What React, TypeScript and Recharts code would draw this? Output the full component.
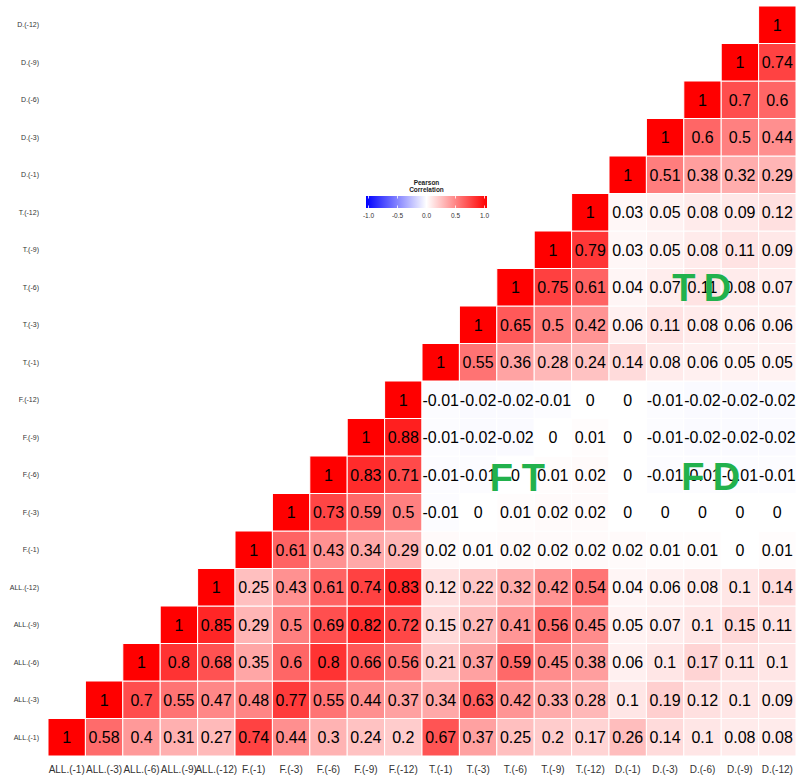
import React from 'react';
import { ScatterChart, Scatter, XAxis, YAxis, ReferenceDot } from 'recharts';

const variables = [
  'ALL.(-1)', 'ALL.(-3)', 'ALL.(-6)', 'ALL.(-9)', 'ALL.(-12)',
  'F.(-1)', 'F.(-3)', 'F.(-6)', 'F.(-9)', 'F.(-12)',
  'T.(-1)', 'T.(-3)', 'T.(-6)', 'T.(-9)', 'T.(-12)',
  'D.(-1)', 'D.(-3)', 'D.(-6)', 'D.(-9)', 'D.(-12)',
];

// each row starts at the diagonal and runs to the right
const rowAll1 = [1, 0.58, 0.4, 0.31, 0.27, 0.74, 0.44, 0.3, 0.24, 0.2, 0.67, 0.37, 0.25, 0.2, 0.17, 0.26, 0.14, 0.1, 0.08, 0.08];
const rowAll3 = [1, 0.7, 0.55, 0.47, 0.48, 0.77, 0.55, 0.44, 0.37, 0.34, 0.63, 0.42, 0.33, 0.28, 0.1, 0.19, 0.12, 0.1, 0.09];
const rowAll6 = [1, 0.8, 0.68, 0.35, 0.6, 0.8, 0.66, 0.56, 0.21, 0.37, 0.59, 0.45, 0.38, 0.06, 0.1, 0.17, 0.11, 0.1];
const rowAll9 = [1, 0.85, 0.29, 0.5, 0.69, 0.82, 0.72, 0.15, 0.27, 0.41, 0.56, 0.45, 0.05, 0.07, 0.1, 0.15, 0.11];
const rowAll12 = [1, 0.25, 0.43, 0.61, 0.74, 0.83, 0.12, 0.22, 0.32, 0.42, 0.54, 0.04, 0.06, 0.08, 0.1, 0.14];
const rowF1 = [1, 0.61, 0.43, 0.34, 0.29, 0.02, 0.01, 0.02, 0.02, 0.02, 0.02, 0.01, 0.01, 0, 0.01];
const rowF3 = [1, 0.73, 0.59, 0.5, -0.01, 0, 0.01, 0.02, 0.02, 0, 0, 0, 0, 0];
const rowF6 = [1, 0.83, 0.71, -0.01, -0.01, 0, 0.01, 0.02, 0, -0.01, -0.01, -0.01, -0.01];
const rowF9 = [1, 0.88, -0.01, -0.02, -0.02, 0, 0.01, 0, -0.01, -0.02, -0.02, -0.02];
const rowF12 = [1, -0.01, -0.02, -0.02, -0.01, 0, 0, -0.01, -0.02, -0.02, -0.02];
const rowT1 = [1, 0.55, 0.36, 0.28, 0.24, 0.14, 0.08, 0.06, 0.05, 0.05];
const rowT3 = [1, 0.65, 0.5, 0.42, 0.06, 0.11, 0.08, 0.06, 0.06];
const rowT6 = [1, 0.75, 0.61, 0.04, 0.07, 0.11, 0.08, 0.07];
const rowT9 = [1, 0.79, 0.03, 0.05, 0.08, 0.11, 0.09];
const rowT12 = [1, 0.03, 0.05, 0.08, 0.09, 0.12];
const rowD1 = [1, 0.51, 0.38, 0.32, 0.29];
const rowD3 = [1, 0.6, 0.5, 0.44];
const rowD6 = [1, 0.7, 0.6];
const rowD9 = [1, 0.74];
const rowD12 = [1];

const rows = [
  rowAll1, rowAll3, rowAll6, rowAll9, rowAll12,
  rowF1, rowF3, rowF6, rowF9, rowF12,
  rowT1, rowT3, rowT6, rowT9, rowT12,
  rowD1, rowD3, rowD6, rowD9, rowD12,
];

const legendTicks = [-1, -0.5, 0, 0.5, 1];

// block letters laid over the cross-group regions
const blockLetters = [
  { text: 'T', x: 16.5, y: 12 },
  { text: 'D', x: 17.4, y: 12 },
  { text: 'F', x: 11.62, y: 6.93 },
  { text: 'T', x: 12.48, y: 6.93 },
  { text: 'F', x: 16.74, y: 6.95 },
  { text: 'D', x: 17.64, y: 6.95 },
];

const cells = rows.flatMap((vals, r) => vals.map((v, k) => ({ x: r + k, y: r, v })));

const W = 796;
const H = 782;
const M = { top: 6, right: 0, bottom: 0, left: 0 };
const Y_W = 48;
const X_H = 26;
const N = variables.length;
const cellW = (W - M.left - M.right - Y_W) / N;
const cellH = (H - M.top - M.bottom - X_H) / N;
const FONT = '"Liberation Sans", Arial, sans-serif';

const fillFor = (v: number) => {
  if (v >= 0) {
    const g = Math.round(255 * (1 - v));
    return `rgb(255,${g},${g})`;
  }
  const g = Math.round(255 * (1 + v));
  return `rgb(${g},${g},255)`;
};

const Tile = (props: any) => {
  const { cx, cy, payload } = props;
  return (
    <rect
      x={cx - cellW / 2}
      y={cy - cellH / 2}
      width={cellW}
      height={cellH}
      fill={fillFor(payload.v)}
      stroke="#ffffff"
      strokeWidth={1}
    />
  );
};

const TileLabel = (props: any) => {
  const { cx, cy, payload } = props;
  return (
    <text x={cx} y={cy} dy="0.36em" textAnchor="middle" fontSize={16} fill="#000" fontFamily={FONT}>
      {String(payload.v)}
    </text>
  );
};

const Letter = (text: string) => (props: any) => (
  <text
    x={props.cx}
    y={props.cy}
    dy="0.36em"
    textAnchor="middle"
    fontSize={38}
    fontWeight="bold"
    fill="#22b14c"
    fontFamily={FONT}
  >
    {text}
  </text>
);

const ColorKey = () => {
  const x0 = 366;
  const x1 = 487;
  const y0 = 196;
  const h = 12;
  const tx0 = 368.5;
  const tx1 = 484.5;
  const pos = (t: number) => tx0 + ((t + 1) / 2) * (tx1 - tx0);
  return (
    <svg width={W} height={H} style={{ position: 'absolute', left: 0, top: 0, pointerEvents: 'none' }}>
      <defs>
        <linearGradient id="corrGrad" x1="0" x2="1" y1="0" y2="0">
          <stop offset="0%" stopColor="#0000ff" />
          <stop offset="50%" stopColor="#ffffff" />
          <stop offset="100%" stopColor="#ff0000" />
        </linearGradient>
      </defs>
      <text x={(x0 + x1) / 2} y={185} textAnchor="middle" fontSize={6.5} fontWeight="bold" fill="#222" fontFamily={FONT}>
        Pearson
      </text>
      <text x={(x0 + x1) / 2} y={192} textAnchor="middle" fontSize={6.5} fontWeight="bold" fill="#222" fontFamily={FONT}>
        Correlation
      </text>
      <rect x={x0} y={y0} width={x1 - x0} height={h} fill="url(#corrGrad)" />
      {legendTicks.map((t) => (
        <g key={t}>
          <line x1={pos(t)} x2={pos(t)} y1={y0} y2={y0 + 2.5} stroke="#fff" strokeWidth={0.8} />
          <line x1={pos(t)} x2={pos(t)} y1={y0 + h - 2.5} y2={y0 + h} stroke="#fff" strokeWidth={0.8} />
          <text x={pos(t)} y={218} textAnchor="middle" fontSize={6.5} fill="#333" fontFamily={FONT}>
            {t.toFixed(1)}
          </text>
        </g>
      ))}
    </svg>
  );
};

export default function App() {
  const ticks = variables.map((_, i) => i);
  return (
    <div style={{ position: 'absolute', left: 0, top: 0, width: W, height: H, background: '#fff' }}>
      <ScatterChart width={W} height={H} margin={M} style={{ fontFamily: FONT }}>
        <XAxis
          type="number"
          dataKey="x"
          domain={[-0.5, N - 0.5]}
          ticks={ticks}
          interval={0}
          tickFormatter={(i: number) => variables[i]}
          height={X_H}
          axisLine={false}
          tickLine={false}
          tickSize={0}
          tickMargin={10}
          tick={{ fontSize: 10, fill: '#333', fontFamily: FONT }}
        />
        <YAxis
          type="number"
          dataKey="y"
          domain={[-0.5, N - 0.5]}
          ticks={ticks}
          interval={0}
          tickFormatter={(i: number) => variables[i]}
          width={Y_W}
          axisLine={false}
          tickLine={false}
          tickSize={0}
          tickMargin={9}
          tick={{ fontSize: 7, fill: '#333', fontFamily: FONT }}
        />
        <Scatter data={cells} shape={Tile} isAnimationActive={false} />
        <Scatter data={cells} shape={TileLabel} isAnimationActive={false} />
        {blockLetters.map((b, i) => (
          <ReferenceDot key={i} x={b.x} y={b.y} r={0} shape={Letter(b.text)} />
        ))}
      </ScatterChart>
      <ColorKey />
    </div>
  );
}
